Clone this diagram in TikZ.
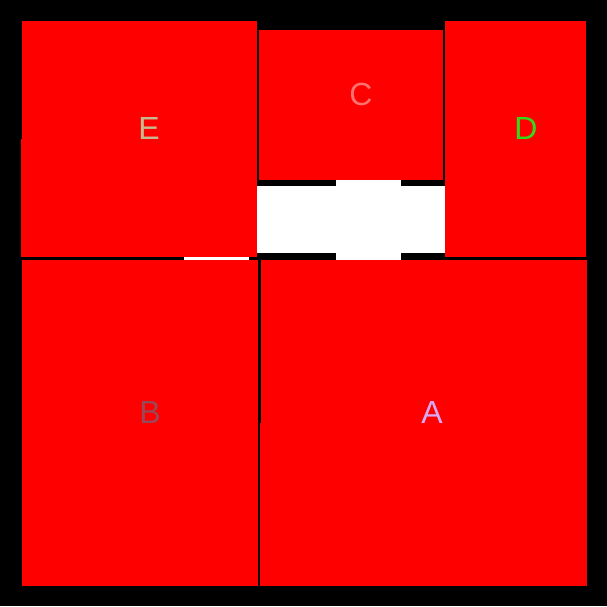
\documentclass[tikz,border=0pt]{standalone}
\usepackage{fontspec}
\setmainfont{Liberation Sans}
\usepackage{xcolor}
\definecolor{RoomRed}{HTML}{FF0000}
\definecolor{TanE}{HTML}{C8B890}
\definecolor{PinkC}{HTML}{FF7070}
\definecolor{GreenD}{HTML}{30DD18}
\definecolor{MauveB}{HTML}{9A4858}
\definecolor{LilacA}{HTML}{D8A8F0}
\begin{document}
\begin{tikzpicture}[x=1pt,y=-1pt,
  room/.style={fill=RoomRed},
  gap/.style={fill=white},
  lbl/.style={inner sep=0pt,font=\fontsize{32}{32}\selectfont}
]
\useasboundingbox (0,0) rectangle (607,606);
\fill[black] (0,0) rectangle (607,606);
% rooms
\fill[room] (22,21) rectangle (257,257);
\fill[room] (21,139) rectangle (22,257);
\fill[room] (259,30) rectangle (443,180);
\fill[room] (445,21) rectangle (586,257);
\fill[room] (22,260) rectangle (258,586);
\fill[room] (261,260) rectangle (587,586);
\fill[room] (260,423) rectangle (261,586);
% open space
\fill[gap] (257,186) rectangle (445,253);
\fill[gap] (336,180) rectangle (401,260);
\fill[gap] (184,257) rectangle (249,260);
% labels
\node[lbl,text=TanE] (labE) at (149,128) {E};
\node[lbl,text=PinkC] (labC) at (361,94) {C};
\node[lbl,text=GreenD] (labD) at (526,128) {D};
\node[lbl,text=MauveB] (labB) at (150,412) {B};
\node[lbl,text=LilacA] (labA) at (432,412) {A};
\end{tikzpicture}
\end{document}
